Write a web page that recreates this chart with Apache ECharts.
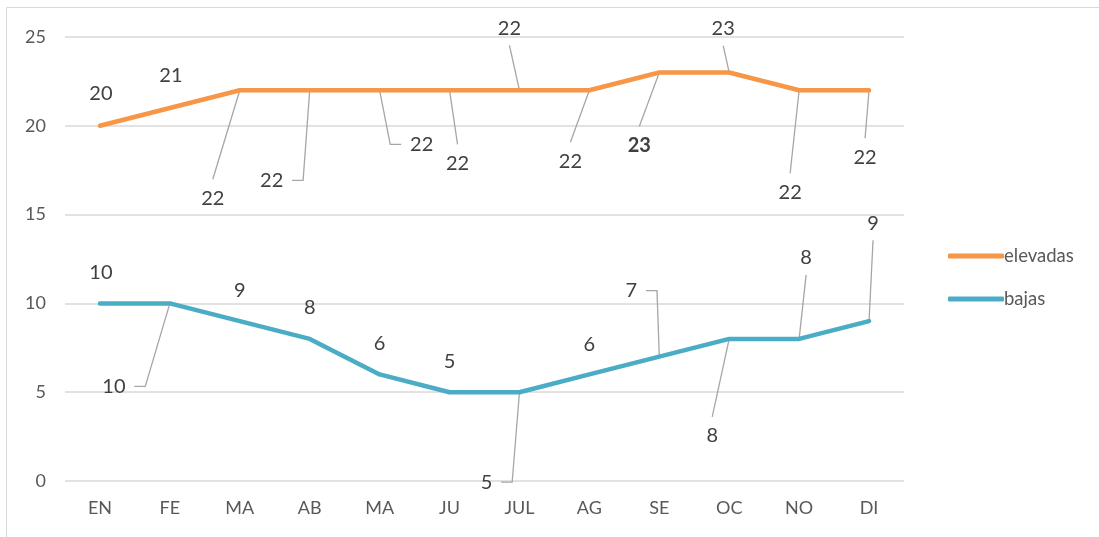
<!DOCTYPE html>
<html>
<head>
<meta charset="utf-8">
<title>elevadas / bajas</title>
<script src="https://cdn.jsdelivr.net/npm/echarts@6/dist/echarts.min.js"></script>
<style>
  html, body { margin: 0; padding: 0; background: #fff; }
  #chart { width: 1099px; height: 537px; }
</style>
</head>
<body>
<div id="chart"></div>
<script>
// datos
var meses = ["EN", "FE", "MA", "AB", "MA", "JU", "JUL", "AG", "SE", "OC", "NO", "DI"];
var elevadas = [20, 21, 22, 22, 22, 22, 22, 22, 23, 23, 22, 22];
var bajas = [10, 10, 9, 8, 6, 5, 5, 6, 7, 8, 8, 9];
var yTicks = [0, 5, 10, 15, 20, 25];

// donde van las etiquetas (desplazamiento en px desde el punto)
var offsElevadas = [[1, -32], [1, -32], [-27, 108], [-38, 90], [42, 54], [8, 73],
  [-10, -62], [-19, 71], [-20, 73], [-6, -44], [-9, 102], [-4, 67]];
var offsBajas = [[1, -31], [-56, 83], [0, -31], [0, -31], [0, -31], [0, -31],
  [-33, 90], [0, -30], [-28, -66], [-17, 97], [7, -81], [4, -98]];
// linea guia: n = sin linea, v = llega por arriba/abajo, h = con tramo horizontal
var guiaElevadas = ["n", "n", "v", "h", "h", "v", "v", "v", "v", "v", "v", "v"];
var guiaBajas = ["n", "h", "n", "n", "n", "n", "h", "n", "h", "v", "v", "v"];

var FONT = "Lato, 'Liberation Sans', sans-serif";

function buildData(values, boldIdx) {
  return values.map(function (v, i) {
    var item = { value: v };
    if (i === boldIdx) item.label = { fontWeight: "bold" };
    return item;
  });
}

var offsets = [offsElevadas, offsBajas];

// lineas guia como serie custom, sobre las mismas escalas
function guideSeries(values, offs, guia) {
  return {
    type: "custom",
    silent: true,
    z: 1,
    data: values.map(function (v, i) { return [i, v]; }),
    encode: { x: 0, y: 1 },
    renderItem: function (params, api) {
      var i = params.dataIndex;
      var g = guia[i];
      if (g === "n") return null;
      var p = api.coord([api.value(0), api.value(1)]);
      var o = offs[i];
      var cx = p[0] + o[0];
      var cy = p[1] + o[1];
      var pts;
      if (g === "v") {
        var ey = o[1] > 0 ? cy - 19 : cy + 17;
        pts = [[p[0], p[1]], [cx, ey]];
      } else {
        var half = String(values[i]).length * 5.7 + 9;
        var ex = o[0] < 0 ? cx + half : cx - half;
        var bx = o[0] < 0 ? ex + 11 : ex - 11;
        pts = [[p[0], p[1]], [bx, cy], [ex, cy]];
      }
      return {
        type: "polyline",
        shape: { points: pts },
        style: { stroke: "#a6a6a6", fill: null, lineWidth: 1.3 },
      };
    },
  };
}

var option = {
  animation: false,
  textStyle: { fontFamily: FONT },
  graphic: [
    {
      type: "rect",
      shape: { x: 6.5, y: 7.5, width: 1200, height: 600 },
      style: { fill: "none", stroke: "#d9d9d9", lineWidth: 1 },
      silent: true,
    },
  ],
  grid: {
    left: 65,
    right: 195,
    top: 37,
    bottom: 56,
  },
  legend: {
    orient: "vertical",
    left: 943,
    top: 241,
    itemWidth: 56,
    itemHeight: 5,
    itemGap: 23,
    icon: "roundRect",
    textStyle: { fontFamily: FONT, fontSize: 18.5, color: "#595959", lineHeight: 20, padding: [0, 0, 0, -5] },
    data: ["elevadas", "bajas"],
  },
  xAxis: {
    type: "category",
    data: meses,
    boundaryGap: true,
    axisLine: { show: false },
    axisTick: { show: false },
    axisLabel: { color: "#595959", fontSize: 18, margin: 18, fontFamily: FONT },
  },
  yAxis: {
    type: "value",
    min: yTicks[0],
    max: yTicks[yTicks.length - 1],
    interval: 5,
    axisLine: { show: false },
    axisTick: { show: false },
    axisLabel: { color: "#595959", fontSize: 18, margin: 19, fontFamily: FONT },
    splitLine: { lineStyle: { color: "#d9d9d9", width: 1.5 } },
  },
  labelLayout: function (params) {
    var o = offsets[params.seriesIndex][params.dataIndex];
    return {
      x: params.rect.x + params.rect.width / 2 + o[0],
      y: params.rect.y + params.rect.height / 2 + o[1],
      align: "center",
      verticalAlign: "middle",
    };
  },
  series: [
    {
      name: "elevadas",
      type: "line",
      z: 3,
      data: buildData(elevadas, 8),
      symbol: "circle",
      symbolSize: 2,
      itemStyle: { color: "#f79646" },
      lineStyle: { color: "#f79646", width: 4.5, cap: "round", join: "round" },
      label: { show: true, color: "#404040", fontSize: 20, fontFamily: FONT },
    },
    {
      name: "bajas",
      type: "line",
      z: 3,
      data: buildData(bajas, -1),
      symbol: "circle",
      symbolSize: 2,
      itemStyle: { color: "#4bacc6" },
      lineStyle: { color: "#4bacc6", width: 4.5, cap: "round", join: "round" },
      label: { show: true, color: "#404040", fontSize: 20, fontFamily: FONT },
    },
    guideSeries(elevadas, offsElevadas, guiaElevadas),
    guideSeries(bajas, offsBajas, guiaBajas),
  ],
};

var myChart = echarts.init(document.getElementById("chart"));
myChart.setOption(option);
</script>
</body>
</html>
